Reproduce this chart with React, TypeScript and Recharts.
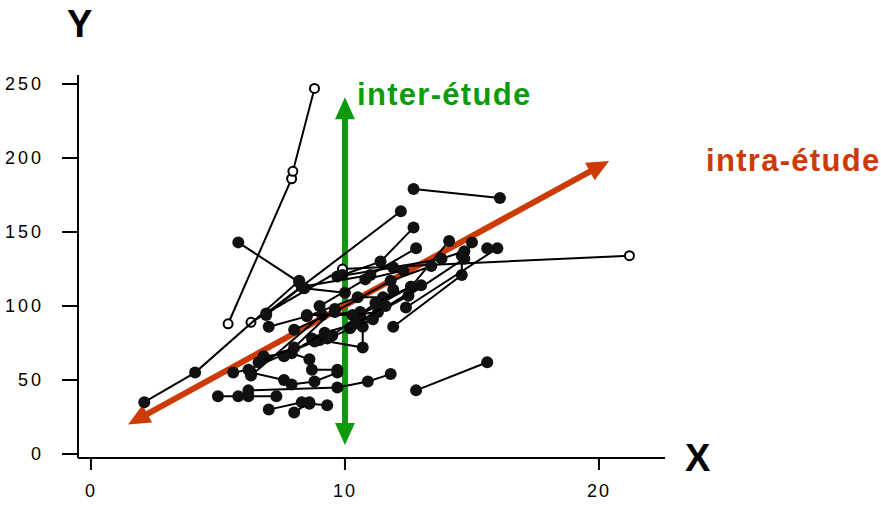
import React from "react";
import { ScatterChart, Scatter, XAxis, YAxis, ReferenceLine } from "recharts";

type P = { x: number; y: number };

// Individual studies (each is a polyline of within-study points)
const openStudyA: P[] = [{ x: 5.4, y: 88 }, { x: 7.9, y: 186 }, { x: 7.95, y: 191 }, { x: 8.8, y: 247 }];
const openStudyB: P[] = [{ x: 6.3, y: 89 }, { x: 9.9, y: 125 }, { x: 21.2, y: 134 }];

const study01: P[] = [{ x: 12.7, y: 179 }, { x: 16.1, y: 173 }];
const study02: P[] = [{ x: 6.9, y: 95 }, { x: 12.2, y: 164 }];
const study03: P[] = [{ x: 5.8, y: 143 }, { x: 8.2, y: 116 }, { x: 8.4, y: 112 }, { x: 10.0, y: 109 }];
const study04: P[] = [{ x: 2.1, y: 35 }, { x: 4.1, y: 55 }, { x: 8.2, y: 117 }];
const study05: P[] = [{ x: 15.6, y: 62 }, { x: 12.8, y: 43 }];
const study06: P[] = [{ x: 5.0, y: 39 }, { x: 5.8, y: 39 }, { x: 6.2, y: 39 }, { x: 7.3, y: 39 }];
const study07: P[] = [{ x: 6.2, y: 43 }, { x: 9.7, y: 45 }, { x: 10.9, y: 49 }, { x: 11.8, y: 54 }];
const study08: P[] = [{ x: 7.0, y: 30 }, { x: 8.3, y: 35 }, { x: 8.6, y: 34 }, { x: 9.3, y: 33 }];
const study09: P[] = [{ x: 8.0, y: 28 }, { x: 8.6, y: 35 }];
const study10: P[] = [{ x: 11.9, y: 86 }, { x: 14.6, y: 121 }, { x: 14.6, y: 134 }];
const study11: P[] = [{ x: 12.4, y: 99 }, { x: 16.0, y: 139 }, { x: 15.6, y: 139 }];
const study12: P[] = [{ x: 10.2, y: 85 }, { x: 12.5, y: 107 }, { x: 14.7, y: 132 }, { x: 15.0, y: 143 }];
const study13: P[] = [{ x: 10.6, y: 94 }, { x: 12.6, y: 113 }, { x: 14.1, y: 144 }];
const study14: P[] = [{ x: 9.9, y: 121 }, { x: 11.4, y: 130 }, { x: 12.7, y: 153 }];
const study15: P[] = [{ x: 9.7, y: 120 }, { x: 11.9, y: 126 }, { x: 13.8, y: 132 }, { x: 14.7, y: 137 }];
const study16: P[] = [{ x: 6.9, y: 94 }, { x: 8.3, y: 113 }, { x: 11.0, y: 121 }, { x: 12.8, y: 139 }];
const study17: P[] = [{ x: 7.0, y: 86 }, { x: 8.5, y: 93 }, { x: 10.5, y: 106 }, { x: 11.5, y: 106 }];
const study18: P[] = [{ x: 8.7, y: 78 }, { x: 9.5, y: 80 }, { x: 11.2, y: 102 }, { x: 12.6, y: 113 }];
const study19: P[] = [{ x: 9.0, y: 77 }, { x: 10.7, y: 72 }, { x: 10.7, y: 86 }, { x: 11.9, y: 111 }];
const study20: P[] = [{ x: 6.8, y: 66 }, { x: 7.9, y: 68 }, { x: 8.6, y: 64 }, { x: 8.7, y: 57 }, { x: 9.7, y: 57 }];
const study21: P[] = [{ x: 6.3, y: 55 }, { x: 7.6, y: 50 }, { x: 7.9, y: 47 }, { x: 8.8, y: 49 }, { x: 9.7, y: 55 }];
const study22: P[] = [{ x: 5.6, y: 55 }, { x: 6.2, y: 57 }, { x: 8.8, y: 76 }, { x: 9.3, y: 78 }, { x: 11.1, y: 91 }];
const study23: P[] = [{ x: 6.3, y: 53 }, { x: 9.1, y: 94 }, { x: 10.6, y: 96 }];
const study24: P[] = [{ x: 8.5, y: 94 }, { x: 10.3, y: 94 }, { x: 11.3, y: 96 }, { x: 13.0, y: 114 }];
const study25: P[] = [{ x: 7.6, y: 66 }, { x: 9.2, y: 82 }, { x: 10.4, y: 88 }, { x: 11.6, y: 100 }];
const study26: P[] = [{ x: 6.6, y: 62 }, { x: 8.0, y: 72 }, { x: 9.6, y: 98 }];
const study27: P[] = [{ x: 9.0, y: 100 }, { x: 10.8, y: 118 }, { x: 12.3, y: 124 }];
const study28: P[] = [{ x: 8.0, y: 84 }, { x: 9.6, y: 96 }, { x: 11.8, y: 117 }, { x: 13.4, y: 127 }];

const filledStudies: P[][] = [
  study01, study02, study03, study04, study05, study06, study07, study08, study09,
  study10, study11, study12, study13, study14, study15, study16, study17, study18,
  study19, study20, study21, study22, study23, study24, study25, study26, study27, study28,
];
const openStudies: P[][] = [openStudyA, openStudyB];

// Arrows (between-study and within-study trends)
const interArrow: P[] = [{ x: 10, y: 6 }, { x: 10, y: 241 }];
const intraArrow: P[] = [{ x: 1.46, y: 20 }, { x: 20.4, y: 198 }];

const xTicks = [0, 10, 20];
const yTicks = [0, 50, 100, 150, 200, 250];

const GREEN = "#0d9a0d";
const RED = "#cc3a06";
const FONT = "'Liberation Sans', Arial, sans-serif";

const FilledDot = (props: any) => {
  const { cx, cy } = props;
  if (cx == null || cy == null) return null;
  return <circle cx={cx} cy={cy} r={6} fill="#111" />;
};
const OpenDot = (props: any) => {
  const { cx, cy } = props;
  if (cx == null || cy == null) return null;
  return <circle cx={cx} cy={cy} r={4.5} fill="#fff" stroke="#000" strokeWidth={2} />;
};

const makeArrow = (color: string) => (props: any) => {
  const { x1, y1, x2, y2 } = props;
  if ([x1, y1, x2, y2].some((v) => v == null || isNaN(v))) return null;
  const dx = x2 - x1;
  const dy = y2 - y1;
  const len = Math.sqrt(dx * dx + dy * dy);
  const ux = dx / len;
  const uy = dy / len;
  const hl = 22;
  const hw = 10;
  const head = (tx: number, ty: number, dirx: number, diry: number) => {
    const bx = tx - dirx * hl;
    const by = ty - diry * hl;
    const px = -diry;
    const py = dirx;
    return `${tx},${ty} ${bx + px * hw},${by + py * hw} ${bx - px * hw},${by - py * hw}`;
  };
  return (
    <g>
      <line
        x1={x1 + ux * (hl - 2)}
        y1={y1 + uy * (hl - 2)}
        x2={x2 - ux * (hl - 2)}
        y2={y2 - uy * (hl - 2)}
        stroke={color}
        strokeWidth={6}
      />
      <polygon points={head(x2, y2, ux, uy)} fill={color} />
      <polygon points={head(x1, y1, -ux, -uy)} fill={color} />
    </g>
  );
};

export default function App() {
  return (
    <div style={{ position: "absolute", left: 0, top: 0, width: 881, height: 505, background: "#fff" }}>
      <ScatterChart
        width={881}
        height={505}
        margin={{ top: 75, right: 216, bottom: 0, left: 18 }}
      >
        <XAxis
          type="number"
          dataKey="x"
          domain={[-0.51, 22.6]}
          ticks={xTicks}
          allowDataOverflow
          height={47}
          tickSize={12}
          tickMargin={14}
          axisLine={{ stroke: "#000", strokeWidth: 2 }}
          tickLine={{ stroke: "#000", strokeWidth: 2 }}
          tick={{ fill: "#000", fontSize: 18, fontFamily: FONT, letterSpacing: 2 }}
        />
        <YAxis
          type="number"
          dataKey="y"
          domain={[-2.7, 256.1]}
          ticks={yTicks}
          allowDataOverflow
          width={60}
          tickSize={16}
          tickMargin={18}
          axisLine={{ stroke: "#000", strokeWidth: 2 }}
          tickLine={{ stroke: "#000", strokeWidth: 2 }}
          tick={{ fill: "#000", fontSize: 18, fontFamily: FONT, letterSpacing: 3 }}
        />
        {openStudies.map((d, i) => (
          <Scatter
            key={"o" + i}
            data={d}
            line={{ stroke: "#000", strokeWidth: 2 }}
            shape={OpenDot}
            isAnimationActive={false}
          />
        ))}
        {filledStudies.map((d, i) => (
          <Scatter
            key={"f" + i}
            data={d}
            line={{ stroke: "#000", strokeWidth: 2 }}
            shape={FilledDot}
            isAnimationActive={false}
          />
        ))}
        <ReferenceLine
          segment={interArrow}
          ifOverflow="visible"
          shape={makeArrow(GREEN)}
        />
        <ReferenceLine
          segment={intraArrow}
          ifOverflow="visible"
          shape={makeArrow(RED)}
        />
      </ScatterChart>
      <div style={{ position: "absolute", left: 67, top: 5, fontFamily: FONT, fontWeight: "bold", fontSize: 38, lineHeight: 1, color: "#000" }}>Y</div>
      <div style={{ position: "absolute", left: 685, top: 439, fontFamily: FONT, fontWeight: "bold", fontSize: 38, lineHeight: 1, color: "#000" }}>X</div>
      <div style={{ position: "absolute", left: 357, top: 79, fontFamily: FONT, fontWeight: "bold", fontSize: 31, lineHeight: 1, letterSpacing: 1.3, color: GREEN, whiteSpace: "nowrap" }}>inter-étude</div>
      <div style={{ position: "absolute", left: 706, top: 145, fontFamily: FONT, fontWeight: "bold", fontSize: 31, lineHeight: 1, letterSpacing: 1.3, color: RED, whiteSpace: "nowrap" }}>intra-étude</div>
    </div>
  );
}
